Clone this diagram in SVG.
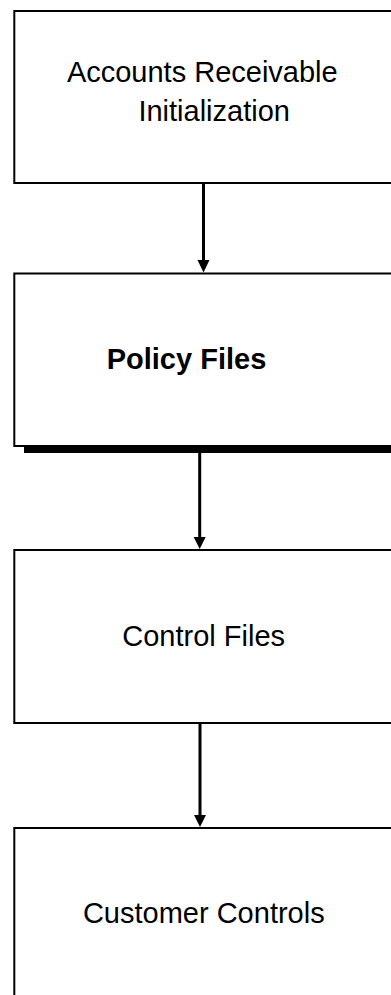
<svg xmlns="http://www.w3.org/2000/svg" width="391" height="995" viewBox="0 0 391 995">
  <style>
    .box { fill: #ffffff; stroke: #000000; stroke-width: 2; }
    .label { font-family: "Liberation Sans", Arial, sans-serif; font-size: 29px; fill: #000000; }
    .bold { font-weight: bold; }
    .wire { stroke: #000000; stroke-width: 3; fill: none; }
    .head { fill: #000000; }
  </style>
  <rect x="0" y="0" width="391" height="995" fill="#ffffff"/>

  <g id="node-ar-init">
    <rect class="box" x="14.3" y="11" width="420" height="172"/>
    <text class="label" x="202.3" y="81.5" text-anchor="middle">Accounts Receivable</text>
    <text class="label" x="214.2" y="121" text-anchor="middle">Initialization</text>
  </g>

  <g id="node-policy-files">
    <rect x="24" y="280" width="420" height="173" fill="#000000"/>
    <rect class="box" x="14.3" y="273.5" width="420" height="172.5"/>
    <text class="label bold" x="106.7" y="369">Policy Files</text>
  </g>

  <g id="node-control-files">
    <rect class="box" x="14.3" y="550" width="420" height="173"/>
    <text class="label" x="203.7" y="645.7" text-anchor="middle">Control Files</text>
  </g>

  <g id="node-customer-controls">
    <rect class="box" x="14.3" y="828" width="420" height="200"/>
    <text class="label" x="203.8" y="922.7" text-anchor="middle">Customer Controls</text>
  </g>

  <g id="connectors">
    <line class="wire" x1="203.5" y1="184" x2="203.5" y2="262"/>
    <polygon class="head" points="197.5,260 209.5,260 203.5,272.5"/>
    <line class="wire" x1="199.7" y1="453" x2="199.7" y2="539"/>
    <polygon class="head" points="193.7,537 205.7,537 199.7,549"/>
    <line class="wire" x1="200" y1="724" x2="200" y2="817"/>
    <polygon class="head" points="194,815 206,815 200,827"/>
  </g>
</svg>
